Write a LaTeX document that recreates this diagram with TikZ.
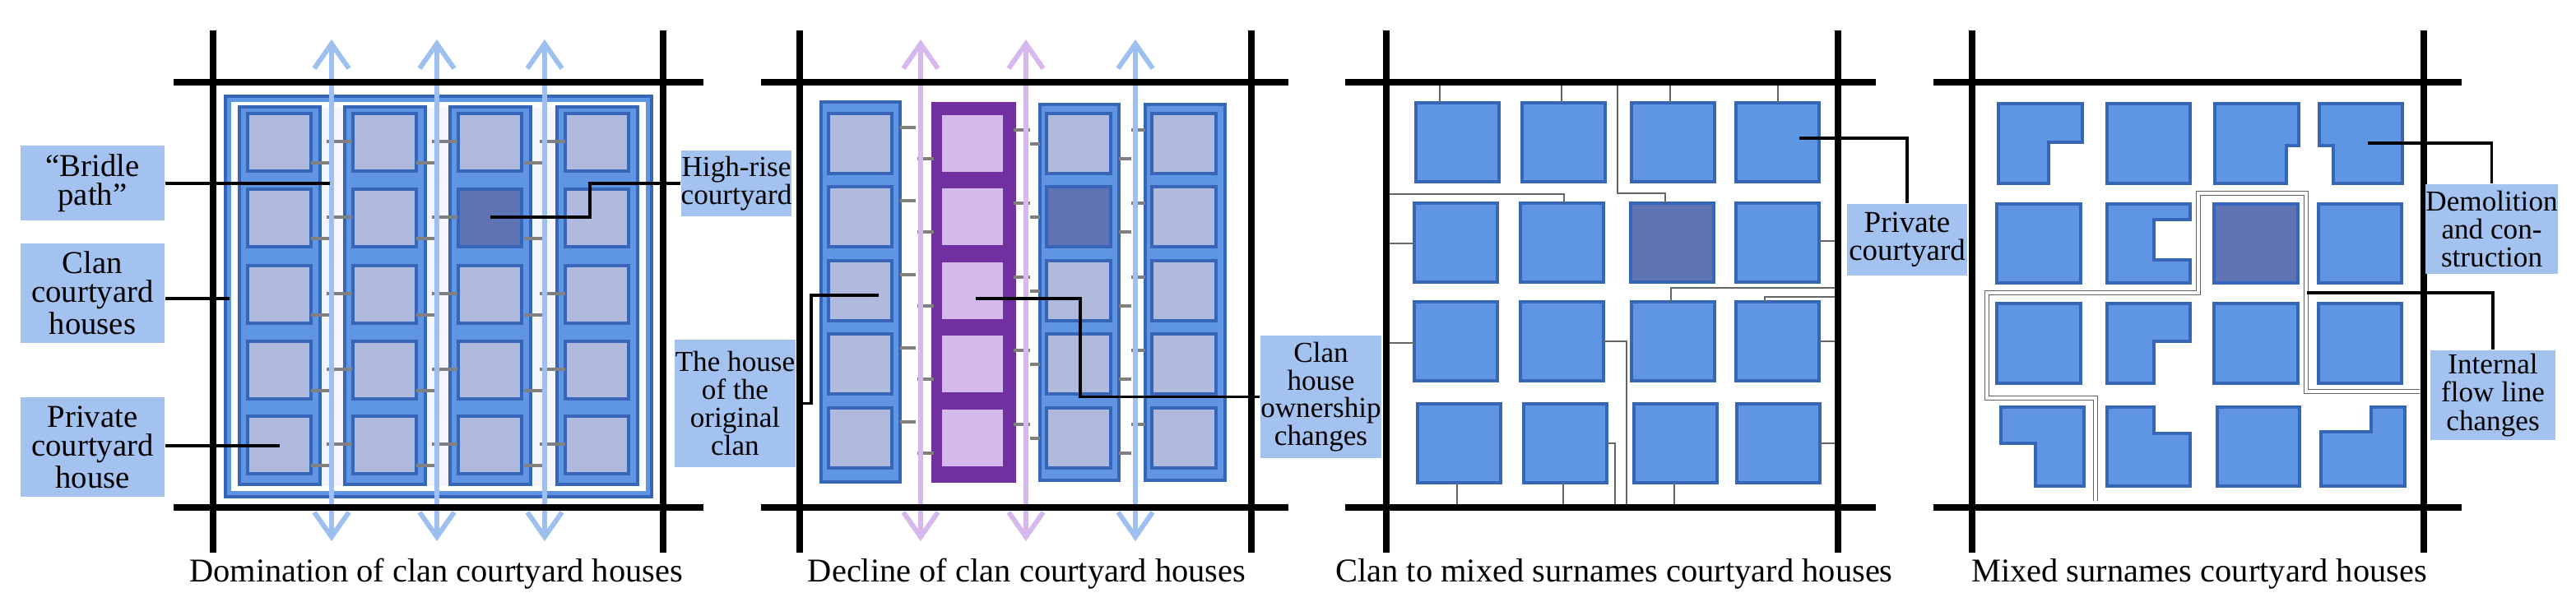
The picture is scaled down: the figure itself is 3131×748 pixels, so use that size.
\documentclass[tikz,border=0pt]{standalone}
\usepackage{fontspec}
\setmainfont{Liberation Serif}
\usetikzlibrary{arrows.meta}
\definecolor{cfill}{HTML}{5F96E3}
\definecolor{cborder}{HTML}{3766B8}
\definecolor{hfill}{HTML}{B0B9DE}
\definecolor{dark}{HTML}{5F74B5}
\definecolor{lbl}{HTML}{A3C2F0}
\definecolor{arr}{HTML}{9DC0F0}
\definecolor{purp}{HTML}{7030A0}
\definecolor{pfill}{HTML}{D5B9EC}
\definecolor{parr}{HTML}{D6B8EC}
\begin{document}
\begin{tikzpicture}[x=0.01cm,y=-0.01cm,
 road/.style={line width=2.3pt,black},
 col/.style={fill=cfill,draw=cborder,line width=1.2pt},
 house/.style={fill=hfill,draw=cborder,line width=1.2pt},
 pcol/.style={fill=purp,draw=purp,line width=1.5pt},
 phouse/.style={fill=pfill,draw=purp,line width=1pt},
 sq/.style={fill=cfill,draw=cborder,line width=1.1pt},
 dsq/.style={fill=dark,draw=cborder,line width=1.1pt},
 arrw/.style={line width=1.7pt,{Straight Barb[length=0.3cm,width=0.42cm]}-{Straight Barb[length=0.3cm,width=0.42cm]}},
 tick/.style={draw=gray,line width=1pt},
 apath/.style={draw=gray!80!black,line width=0.8pt},
 lab/.style={fill=lbl,inner sep=0pt,align=center,font=\fontsize{10.5}{9.8}\selectfont},
 lead/.style={line width=1.1pt,black},
 captxt/.style={font=\fontsize{11.5}{13}\selectfont}]
\useasboundingbox (0,0) rectangle (3131,748);
% ================= Panel 1
\draw[fill=cfill,draw=cborder,line width=1.2pt] (274,117) rectangle (792,604);
\draw[fill=blue!4,draw=white,line width=1.5pt] (284,127) rectangle (782,594);
\foreach \x in {291,419,547,677}{
 \draw[col] (\x,130) rectangle ++(98,459);
 \foreach \y in {138,230,323,415,506}
  \draw[house] (\x+10,\y) rectangle ++(77,70);
}
\draw[house,fill=dark] (557,230) rectangle ++(77,70);
\foreach \a in {403,531,662}{
 \foreach \y in {138,230,323,415,506}{
  \draw[tick] (\a-6,\y+34) -- (\a+25,\y+34);
  \draw[tick] (\a-25,\y+60) -- (\a+3,\y+60);
 }
 \draw[arrw,arr] (\a,658) -- (\a,48);
}
\draw[road] (211,100) -- (855,100);
\draw[road] (211,617) -- (855,617);
\draw[road] (259,37) -- (259,672);
\draw[road] (806,37) -- (806,672);
\node[captxt] (c1) at (530,698) {Domination of clan courtyard houses};
% ================= Panel 2
\draw[col] (998,124) rectangle (1094,586);
\draw[pcol] (1135,127) rectangle (1232,584);
\draw[col] (1264,127) rectangle (1360,584);
\draw[col] (1392,127) rectangle (1489,584);
\foreach \y in {138,227,317,406,496}{
 \draw[house] (1007,\y) rectangle ++(77,73);
 \draw[phouse] (1143,\y) rectangle ++(78,73);
 \draw[house] (1272,\y) rectangle ++(78,73);
 \draw[house] (1400,\y) rectangle ++(78,73);
 \draw[tick] (1094,\y+17) -- (1113,\y+17);
 \draw[tick] (1115,\y+55) -- (1135,\y+55);
 \draw[tick] (1232,\y+20) -- (1252,\y+20);
 \draw[tick] (1252,\y+37) -- (1264,\y+37);
 \draw[tick] (1360,\y+55) -- (1375,\y+55);
 \draw[tick] (1375,\y+20) -- (1392,\y+20);
}
\draw[house,fill=dark] (1272,227) rectangle ++(78,73);
\draw[arrw,parr] (1119,658) -- (1119,48);
\draw[arrw,parr] (1247,658) -- (1247,48);
\draw[arrw,arr] (1380,658) -- (1380,48);
\draw[road] (925,100) -- (1566,100);
\draw[road] (925,617) -- (1566,617);
\draw[road] (972,37) -- (972,672);
\draw[road] (1521,37) -- (1521,672);
\node[captxt] (c2) at (1248,698) {Decline of clan courtyard houses};
% ================= Panel 3
\foreach \x/\y in {1721/125,1850/125,1983/125,2110/125,
 1719/247,1848/247,2110/247,
 1719/367,1848/367,1983/367,2110/367,
 1723/491,1852/491,1986/491,2111/491}
 \draw[sq] (\x,\y) rectangle ++(101,96);
\draw[dsq] (1982,247) rectangle ++(101,96);
\foreach \x in {1750,1898,2030,2161} \draw[apath] (\x,100) -- (\x,125);
\foreach \x in {1771,1900,2035} \draw[apath] (\x,587) -- (\x,617);
\draw[apath] (1966,100) -- (1966,235) -- (2024,235) -- (2024,247);
\draw[apath] (1685,236) -- (1901,236) -- (1901,247);
\draw[apath] (1685,296) -- (1719,296);
\draw[apath] (1685,417) -- (1719,417);
\draw[apath] (2211,293) -- (2234,293);
\draw[apath] (2211,415) -- (2234,415);
\draw[apath] (2212,539) -- (2234,539);
\draw[apath] (2234,350) -- (2031,350) -- (2031,367);
\draw[apath] (2234,361) -- (2145,361) -- (2145,367);
\draw[apath] (1949,415) -- (1977,415) -- (1977,617);
\draw[apath] (1953,539) -- (1963,539) -- (1963,617);
\draw[road] (1635,100) -- (2280,100);
\draw[road] (1635,617) -- (2280,617);
\draw[road] (1685,37) -- (1685,672);
\draw[road] (2234,37) -- (2234,672);
\node[captxt] (c3) at (1962,698) {Clan to mixed surnames courtyard houses};
% ================= Panel 4
\draw[sq] (2429,126) -- (2531,126) -- (2531,173) -- (2490,173) -- (2490,223) -- (2429,223) -- cycle;
\draw[sq] (2561,126) rectangle (2662,223);
\draw[sq] (2692,126) -- (2794,126) -- (2794,177) -- (2779,177) -- (2779,223) -- (2692,223) -- cycle;
\draw[sq] (2819,126) -- (2920,126) -- (2920,223) -- (2836,223) -- (2836,177) -- (2819,177) -- cycle;
\draw[sq] (2427,248) rectangle (2529,344);
\draw[sq] (2561,248) -- (2662,248) -- (2662,267) -- (2618,267) -- (2618,316) -- (2662,316) -- (2662,344) -- (2561,344) -- cycle;
\draw[dsq] (2691,248) rectangle (2793,344);
\draw[sq] (2818,248) rectangle (2919,344);
\draw[sq] (2427,369) rectangle (2529,466);
\draw[sq] (2561,369) -- (2662,369) -- (2662,415) -- (2618,415) -- (2618,466) -- (2561,466) -- cycle;
\draw[sq] (2691,369) rectangle (2793,466);
\draw[sq] (2818,369) rectangle (2919,466);
\draw[sq] (2432,495) -- (2533,495) -- (2533,591) -- (2474,591) -- (2474,539) -- (2432,539) -- cycle;
\draw[sq] (2561,495) -- (2618,495) -- (2618,527) -- (2662,527) -- (2662,591) -- (2561,591) -- cycle;
\draw[sq] (2695,495) rectangle (2795,591);
\draw[sq] (2882,495) -- (2923,495) -- (2923,591) -- (2821,591) -- (2821,525) -- (2882,525) -- cycle;
\draw[draw=gray!75!black,double=white,double distance=0.9pt,line width=0.5pt]
 (2547,609) -- (2547,484) -- (2415,484) -- (2415,356) -- (2672,356) -- (2672,235) -- (2803,235) -- (2803,476) -- (2941,476);
\draw[road] (2350,100) -- (2992,100);
\draw[road] (2350,617) -- (2992,617);
\draw[road] (2397,37) -- (2397,672);
\draw[road] (2946,37) -- (2946,672);
\node[captxt] (c4) at (2673,698) {Mixed surnames courtyard houses};
% ================= Labels
\node[lab,minimum width=1.75cm,minimum height=0.91cm,font=\fontsize{11}{10}\selectfont] (bridle) at (112.5,222.5) {“Bridle\\path”};
\node[lab,minimum width=1.75cm,minimum height=1.21cm,font=\fontsize{11}{10}\selectfont] (clan) at (112.5,356.5) {Clan\\courtyard\\houses};
\node[lab,minimum width=1.75cm,minimum height=1.21cm,font=\fontsize{11}{10}\selectfont] (priv) at (112.5,543.5) {Private\\courtyard\\house};
\node[lab,minimum width=1.34cm,minimum height=0.80cm,font=\fontsize{10}{9.6}\selectfont] (high) at (895,223) {High-rise\\courtyard};
\node[lab,minimum width=1.47cm,minimum height=1.55cm,font=\fontsize{10}{9.6}\selectfont] (orig) at (893.5,490.5) {The house\\of the\\original\\clan};
\node[lab,minimum width=1.47cm,minimum height=1.49cm,font=\fontsize{10}{9.6}\selectfont] (own) at (1605.5,482.5) {Clan\\house\\ownership\\changes};
\node[lab,minimum width=1.46cm,minimum height=0.87cm] (privc) at (2318,291.5) {Private\\courtyard};
\node[lab,minimum width=1.55cm,minimum height=1.09cm,font=\fontsize{10}{9.8}\selectfont] (demo) at (3028.5,278.5) {Demolition\\and con-\\struction};
\node[lab,minimum width=1.52cm,minimum height=1.09cm,font=\fontsize{10}{9.8}\selectfont] (flw) at (3030,480.5) {Internal\\flow line\\changes};
% ================= Leaders
\coordinate (pb) at (401,223);
\coordinate (pc) at (279,363);
\coordinate (pp) at (340,542);
\coordinate (ph) at (596,264);
\coordinate (po) at (1068,359);
\coordinate (pw) at (1186,363);
\coordinate (pr) at (2187,168);
\coordinate (pd) at (2878,174);
\coordinate (pf) at (2804,356);
\draw[lead] (pb) -- (pb -| bridle.east);
\draw[lead] (pc) -- (pc -| clan.east);
\draw[lead] (pp) -- (pp -| priv.east);
\draw[lead] (ph) -- ++(121,0) |- (high.west);
\draw[lead] (po) -- ++(-82,0) |- (orig.east);
\draw[lead] (pw) -- ++(127,0) |- (own.west);
\draw[lead] (pr) -| (privc.north);
\draw[lead] (pd) -| (demo.north);
\draw[lead] (pf) -| (flw.north);
\end{tikzpicture}
\end{document}
